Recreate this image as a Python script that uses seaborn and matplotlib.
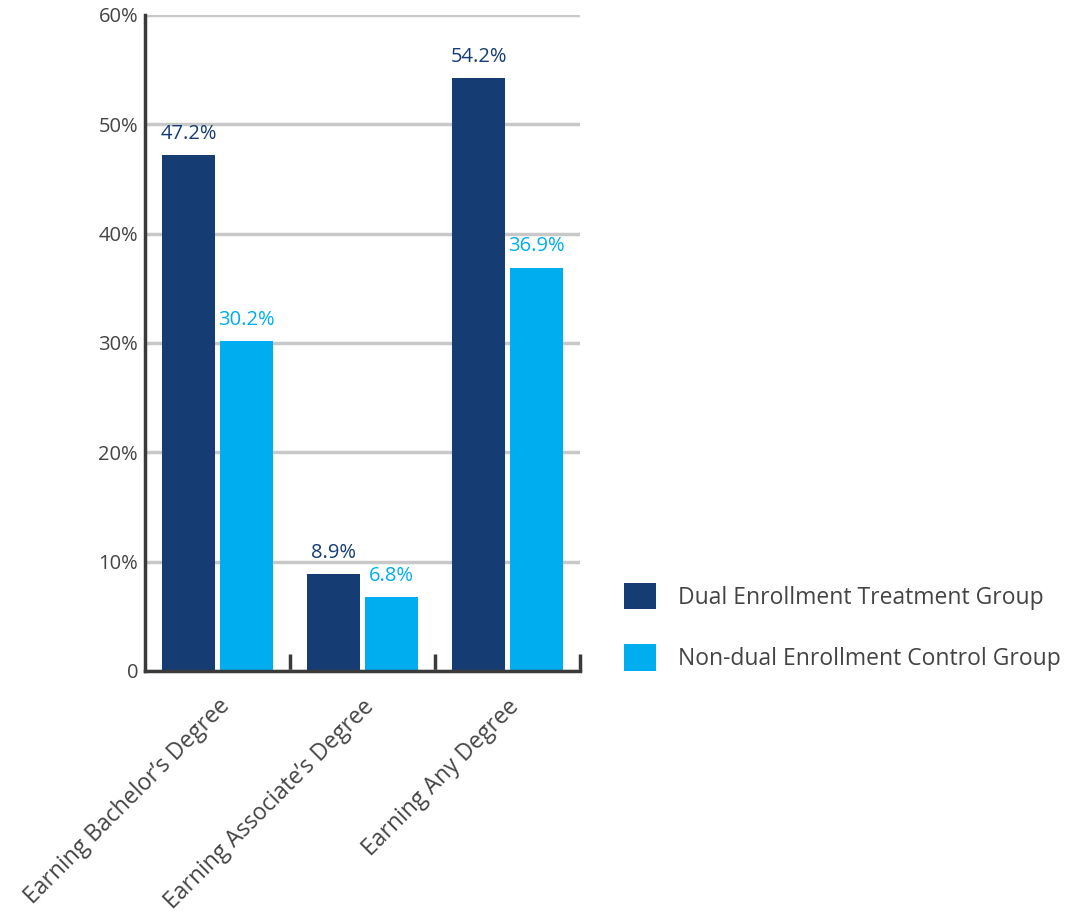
"""
Grouped bar chart: degree attainment, dual enrollment vs control group.
"""
import matplotlib.pyplot as plt
import matplotlib.ticker as mticker
import pandas as pd
import seaborn as sns
from matplotlib.patches import Patch

categories = [
    "Earning Bachelor\u2019s Degree",
    "Earning Associate\u2019s Degree",
    "Earning Any Degree",
]
groups = [
    "Dual Enrollment Treatment Group",
    "Non-dual Enrollment Control Group",
]
treatment = [47.2, 8.9, 54.2]
control = [30.2, 6.8, 36.9]
y_ticks = [0, 10, 20, 30, 40, 50, 60]
y_tick_labels = ["0", "10%", "20%", "30%", "40%", "50%", "60%"]

colors = {groups[0]: "#153c73", groups[1]: "#00aeef"}

df = pd.DataFrame({
    "category": categories * 2,
    "group": [groups[0]] * 3 + [groups[1]] * 3,
    "value": treatment + control,
})

sns.set_theme(style="white")
plt.rcParams['font.family'] = ['Open Sans', 'DejaVu Sans']

fig = plt.figure(figsize=(10.68, 9.14), dpi=100)
ax = fig.add_axes([0.1358, 0.2659, 0.4073, 0.7177])

sns.barplot(
    data=df, x="category", y="value", hue="group", order=categories,
    hue_order=groups, palette=colors, width=0.8, gap=0.09,
    saturation=1, linewidth=0, legend=False, ax=ax,
)

# value labels above each bar
for container, grp in zip(ax.containers, groups):
    ax.bar_label(
        container, labels=[f"{v:.1f}%" for v in container.datavalues],
        padding=8, color=colors[grp], fontsize=14.5,
    )

ax.set_ylim(0, 60)
ax.set_xlim(-0.5, 2.5)
ax.set_yticks(y_ticks)
ax.set_yticklabels(y_tick_labels)
ax.yaxis.grid(True, color="#c8c8c8", linewidth=2.5)
ax.set_axisbelow(True)
ax.set_xlabel("")
ax.set_ylabel("")

for side in ["top", "right"]:
    ax.spines[side].set_visible(False)
for side in ["left", "bottom"]:
    ax.spines[side].set_color("#3a3a3a")
    ax.spines[side].set_linewidth(2.5)

ax.tick_params(axis="y", length=0, pad=5, labelsize=14.5, labelcolor="#444444")
ax.tick_params(axis="x", which="major", bottom=True, length=0, pad=17,
               labelsize=16.5, labelcolor="#444444")
ax.xaxis.set_minor_locator(mticker.FixedLocator([0.5, 1.5, 2.5]))
ax.tick_params(axis="x", which="minor", bottom=True, direction="in",
               length=12, width=2.5, color="#3a3a3a")
for lbl in ax.get_xticklabels():
    lbl.set_rotation(45)
    lbl.set_ha("right")
    lbl.set_rotation_mode("anchor")

handles = [Patch(facecolor=colors[g], edgecolor="none") for g in groups]
fig.legend(
    handles, groups, loc="center left", bbox_to_anchor=(0.565, 0.314),
    frameon=False, fontsize=16.5, labelcolor="#444444",
    handlelength=1.4, handleheight=1.4, labelspacing=1.5, handletextpad=0.95,
)

fig.savefig("out.png", dpi=100)
